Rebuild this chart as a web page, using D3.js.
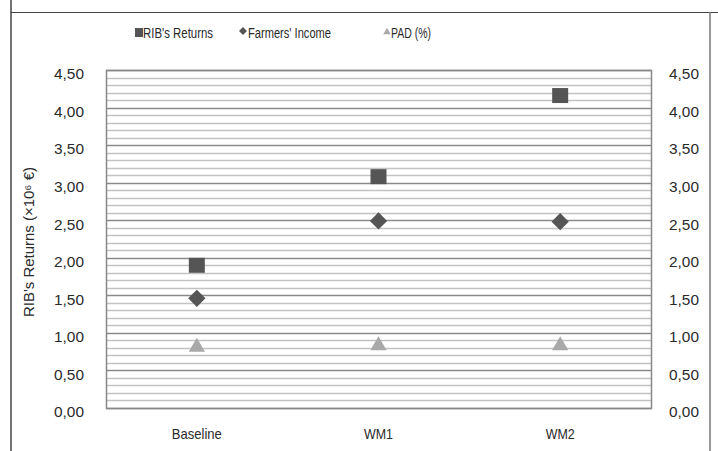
<!DOCTYPE html>
<html><head><meta charset="utf-8">
<script src="https://cdn.jsdelivr.net/npm/d3@7"></script>
<style>html,body{margin:0;padding:0;background:#fff;}svg{display:block;}</style>
</head><body>
<script>
const categories = ["Baseline", "WM1", "WM2"];
const ribReturns = [1.90, 3.08, 4.16];
const farmersIncome = [1.46, 2.49, 2.48];
const pad = [0.81, 0.83, 0.83];
const yTicks = [0, 0.5, 1, 1.5, 2, 2.5, 3, 3.5, 4, 4.5];
const seriesNames = ["RIB's Returns", "Farmers' Income", "PAD (%)"];

const W = 718, H = 451;
const m = {left: 106, right: 651, top: 70, bottom: 408};
const FONT = "'Liberation Sans', Arial, sans-serif";
const TXT = "#2a2a2a";
const svg = d3.select("body").append("svg").attr("width", W).attr("height", H)
  .style("font-family", FONT);

// frame lines
svg.append("line").attr("x1", 11).attr("x2", 11).attr("y1", 0).attr("y2", H).attr("stroke", "#444").attr("stroke-width", 1.5);
svg.append("line").attr("x1", 11).attr("x2", W).attr("y1", 12.5).attr("y2", 12.5).attr("stroke", "#444").attr("stroke-width", 1.2);
svg.append("line").attr("x1", 710).attr("x2", 710).attr("y1", 12).attr("y2", H).attr("stroke", "#777").attr("stroke-width", 1.5);

const x = d3.scaleBand().domain(categories).range([m.left, m.right]);
const y = d3.scaleLinear().domain([0, 4.5]).range([m.bottom, m.top]);

// minor gridlines
const minor = d3.range(1, 45).map(i => i / 10).filter(v => Math.abs(v * 2 - Math.round(v * 2)) > 1e-6);
svg.append("g").selectAll("line").data(minor).join("line")
  .attr("x1", m.left).attr("x2", m.right)
  .attr("y1", d => Math.round(y(d)) + 0.5).attr("y2", d => Math.round(y(d)) + 0.5)
  .attr("stroke", "#c2c2c2").attr("stroke-width", 1.3);
// major gridlines
svg.append("g").selectAll("line").data(yTicks).join("line")
  .attr("x1", m.left).attr("x2", m.right)
  .attr("y1", d => Math.round(y(d)) + 0.5).attr("y2", d => Math.round(y(d)) + 0.5)
  .attr("stroke", "#8a8a8a").attr("stroke-width", 1.3);
// plot border
svg.append("rect").attr("x", m.left + 0.5).attr("y", m.top + 0.5)
  .attr("width", m.right - m.left).attr("height", m.bottom - m.top)
  .attr("fill", "none").attr("stroke", "#888").attr("stroke-width", 1.5);

const fmt = d => d3.format(".2f")(d).replace(".", ",");
const leftAxis = d3.axisLeft(y).tickValues(yTicks).tickFormat(fmt).tickSize(0).tickPadding(0);
const gl = svg.append("g").attr("transform", `translate(84,4)`).call(leftAxis);
const rightAxis = d3.axisRight(y).tickValues(yTicks).tickFormat(fmt).tickSize(0).tickPadding(0);
const gr = svg.append("g").attr("transform", `translate(669,4)`).call(rightAxis);
[gl, gr].forEach(g => {
  g.select(".domain").remove();
  g.selectAll("text").attr("font-size", 15).attr("fill", TXT)
    .attr("font-family", FONT)
    .attr("textLength", 30).attr("lengthAdjust", "spacingAndGlyphs");
});

// x axis
const xAxis = d3.axisBottom(x).tickSize(0).tickPadding(0);
const gx = svg.append("g").attr("transform", `translate(0,${m.bottom + 20})`).call(xAxis);
gx.select(".domain").remove();
gx.selectAll("text").attr("font-size", 15).attr("fill", TXT)
  .attr("font-family", FONT)
  .attr("textLength", d => d === "Baseline" ? 50 : 29).attr("lengthAdjust", "spacingAndGlyphs");

// y title
svg.append("text").attr("transform", `translate(34,${(m.top + m.bottom) / 2 + 3}) rotate(-90)`)
  .attr("text-anchor", "middle").attr("font-size", 14).attr("fill", TXT)
  .attr("textLength", 150).attr("lengthAdjust", "spacingAndGlyphs")
  .text("RIB's Returns (×10⁶ €)");

const cx = d => x(d) + x.bandwidth() / 2;
const dark = "#555", light = "#a9a9a9";
// squares
svg.append("g").selectAll("rect").data(categories).join("rect")
  .attr("x", d => cx(d) - 8).attr("y", (d, i) => y(ribReturns[i]) - 7.5)
  .attr("width", 16).attr("height", 15).attr("fill", dark);
// diamonds
const diamond = d3.symbol().type(d3.symbolDiamond2).size(190);
svg.append("g").selectAll("path").data(categories).join("path")
  .attr("d", diamond)
  .attr("transform", (d, i) => `translate(${cx(d)},${y(farmersIncome[i])})`)
  .attr("fill", dark);
// triangles
const tri = d3.symbol().type(d3.symbolTriangle2).size(190);
svg.append("g").selectAll("path").data(categories).join("path")
  .attr("d", tri)
  .attr("transform", (d, i) => `translate(${cx(d)},${y(pad[i])})`)
  .attr("fill", light);

// legend
const leg = svg.append("g");
const legItems = [
  {x: 135, tx: 143, w: 70},
  {x: 243, tx: 248, w: 83},
  {x: 387, tx: 391, w: 40}
];
leg.append("rect").attr("x", legItems[0].x).attr("y", 28).attr("width", 8).attr("height", 9).attr("fill", dark);
leg.append("path").attr("d", d3.symbol().type(d3.symbolDiamond2).size(40)).attr("transform", `translate(${legItems[1].x},31)`).attr("fill", dark);
leg.append("path").attr("d", d3.symbol().type(d3.symbolTriangle2).size(40)).attr("transform", `translate(${legItems[2].x},32)`).attr("fill", light);
leg.selectAll("text").data(seriesNames).join("text")
  .attr("x", (d, i) => legItems[i].tx).attr("y", 38)
  .attr("font-size", 14).attr("fill", TXT)
  .attr("textLength", (d, i) => legItems[i].w).attr("lengthAdjust", "spacingAndGlyphs")
  .text(d => d);
</script>
</body></html>
